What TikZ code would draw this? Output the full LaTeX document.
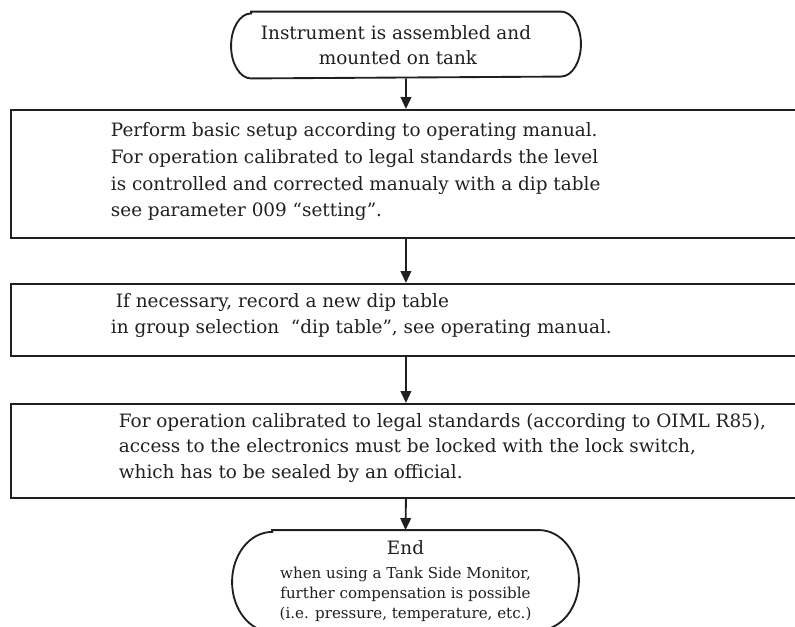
\documentclass[tikz,border=0pt]{standalone}
\usepackage{fontspec}
\setmainfont{DejaVu Serif}
\usetikzlibrary{arrows.meta}
\definecolor{ink}{RGB}{35,31,32}
\newlength\upx \setlength\upx{0.75pt}
\begin{document}
\begin{tikzpicture}[x=0.75pt,y=-0.75pt, line width=1.4pt, color=ink,
  boxnode/.style={draw, rectangle, anchor=north west, minimum width=790\upx, inner sep=0pt},
  termnode/.style={rectangle, inner sep=0pt, align=center},
  txt/.style={anchor=west, align=left, inner sep=0pt, font=\fontsize{13.8pt}{20pt}\selectfont},
  flow/.style={-{Triangle[width=8pt,length=9pt]}}]
\useasboundingbox (0,0) rectangle (795,626);
\clip (0,0) rectangle (795,626);
% start terminator
\node[termnode, minimum width=348\upx, minimum height=65\upx, font=\fontsize{13.8pt}{19pt}\selectfont] (t1) at (406,45)
  {Instrument is assembled and\hspace*{20\upx}\\mounted on tank\hspace*{16\upx}};
\draw ([xshift=20\upx]t1.north west) -- ([xshift=-20\upx]t1.north east)
  arc[start angle=90, end angle=-90, x radius=20\upx, y radius=32.5\upx]
  -- ([xshift=20\upx]t1.south west)
  arc[start angle=270, end angle=90, x radius=20\upx, y radius=32.5\upx] -- cycle;
% boxes
\node[boxnode, minimum height=128\upx] (b1) at (10,109) {};
\node[txt] (b1t) at (110,172)
  {Perform basic setup according to operating manual.\\
   For operation calibrated to legal standards the level\\
   is controlled and corrected manualy with a dip table\\
   see parameter 009 “setting”.};
\node[boxnode, minimum height=72\upx] (b2) at (10,283) {};
\node[txt, font=\fontsize{13.8pt}{19.5pt}\selectfont] (b2t) at (110,316)
  {\hspace*{5\upx}If necessary, record a new dip table\\
   in group selection \ “dip table”, see operating manual.};
\node[boxnode, minimum height=94\upx] (b3) at (10,403) {};
\node[txt, font=\fontsize{13.8pt}{19.2pt}\selectfont] (b3t) at (118,448)
  {For operation calibrated to legal standards (according to OIML R85),\\
   access to the electronics must be locked with the lock switch,\\
   which has to be sealed by an official.};
% end terminator
\node[termnode, minimum width=345\upx, minimum height=100\upx, font=\fontsize{11.3pt}{15pt}\selectfont] (t2) at (405.5,581)
  {{\fontsize{13.8pt}{15pt}\selectfont End}\\[3pt]
   when using a Tank Side Monitor,\\
   further compensation is possible\\
   (i.e. pressure, temperature, etc.)};
\draw ([xshift=40\upx]t2.north west) -- ([xshift=-40\upx]t2.north east)
  arc[start angle=90, end angle=-90, x radius=40\upx, y radius=50\upx]
  -- ([xshift=40\upx]t2.south west)
  arc[start angle=270, end angle=90, x radius=40\upx, y radius=50\upx] -- cycle;
% connectors
\draw[flow] (t1.south) -- (b1.north);
\draw[flow] (b1.south) -- (b2.north);
\draw[flow] (b2.south) -- (b3.north);
\draw[flow] (b3.south) -- (t2.north);
\end{tikzpicture}
\end{document}
